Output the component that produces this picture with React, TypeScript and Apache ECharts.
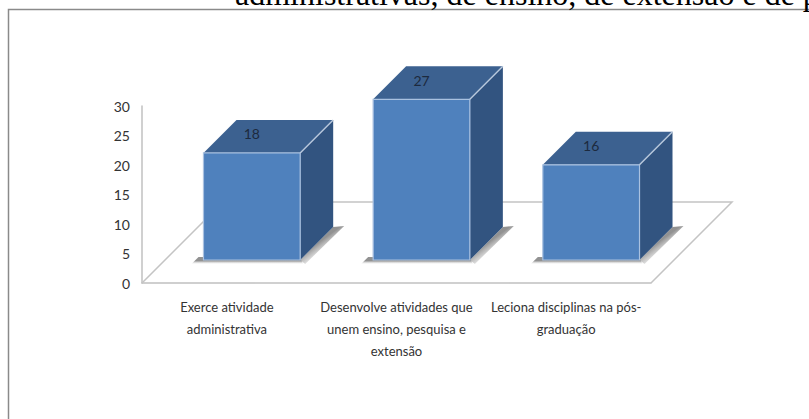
import React, { useEffect, useRef } from "react";
import * as echarts from "echarts";

const categories = [
  "Exerce atividade\nadministrativa",
  "Desenvolve atividades que\nunem ensino, pesquisa e\nextensão",
  "Leciona disciplinas na pós-\ngraduação",
];
const values = [18, 27, 16];
const headingText = "administrativas, de ensino, de extensão e de p";

const LABEL_FONT = 'Lato, "Liberation Sans", sans-serif';
const BAR_DEPTH = 33;
const FLOOR_DEPTH = 81;

const renderFloor = (params: any) => {
  const { x, y, width, height } = params.coordSys;
  const left = x;
  const right = x + width;
  const bottom = y + height;
  const back = bottom - FLOOR_DEPTH;
  return {
    type: "polyline",
    shape: {
      points: [
        [left, bottom],
        [left + FLOOR_DEPTH, back],
        [right + FLOOR_DEPTH, back],
        [right, bottom],
      ],
    },
    style: { fill: "none", stroke: "#c4c4c4", lineWidth: 1.5 },
  };
};

const shadowFade = (x: number, y: number, x2: number, y2: number) =>
  new echarts.graphic.LinearGradient(x, y, x2, y2, [
    { offset: 0, color: "rgba(140,140,140,0.95)" },
    { offset: 1, color: "rgba(215,215,215,0)" },
  ]);

const renderBar = (params: any, api: any) => {
  const index = api.value(0);
  const value = api.value(1);
  const [cx, base] = api.coord([index, 0]);
  const [, top] = api.coord([index, value]);
  const half = api.size([1, 0])[0] * 0.285;
  const l = cx - half;
  const r = cx + half;
  const d = BAR_DEPTH;
  return {
    type: "group",
    children: [
      // soft shadows cast on the floor, below the front and beside the side face
      {
        type: "polygon",
        shape: { points: [[l - 12, base + 4], [r + 3, base + 4], [r, base - 2], [l - 5, base - 3]] },
        style: { fill: shadowFade(0, 0.55, 0, 1) },
      },
      {
        type: "polygon",
        shape: { points: [[r, base], [r + d, base - d], [r + d + 11, base - d - 1], [r + 5, base + 4]] },
        style: { fill: shadowFade(0.4, 0.45, 0.68, 0.78) },
      },
      {
        type: "polygon",
        shape: { points: [[r, top], [r + d, top - d], [r + d, base - d], [r, base]] },
        style: { fill: "#325480" },
      },
      {
        type: "polygon",
        shape: { points: [[l, top], [l + d, top - d], [r + d, top - d], [r, top]] },
        style: { fill: "#3c6190" },
      },
      {
        type: "rect",
        shape: { x: l, y: top, width: r - l, height: base - top },
        style: { fill: "#4f81bd", stroke: "#a9c1e0", lineWidth: 1.2 },
      },
      {
        type: "line",
        shape: { x1: r, y1: top, x2: r + d, y2: top - d },
        style: { stroke: "#b9c9dd", lineWidth: 1.4 },
      },
      {
        type: "text",
        style: {
          text: String(value),
          x: cx,
          y: top - 19,
          align: "center",
          verticalAlign: "middle",
          fill: "#1c2a3e",
          font: `14px ${LABEL_FONT}`,
        },
      },
    ],
  };
};

export default function App() {
  const ref = useRef<HTMLDivElement>(null);

  useEffect(() => {
    const chart = echarts.init(ref.current!, undefined, { renderer: "svg" });
    chart.setOption({
      animation: false,
      backgroundColor: "#ffffff",
      grid: [
        { left: 142, top: 106, width: 509, height: 177 },
        { left: 167, top: 81.5, width: 509, height: 178.5 },
      ],
      xAxis: [
        {
          type: "category",
          gridIndex: 0,
          data: categories,
          axisLine: { lineStyle: { color: "#c0c0c0", width: 1.5 } },
          axisTick: { show: false },
          axisLabel: {
            interval: 0,
            margin: 13,
            color: "#333333",
            fontFamily: LABEL_FONT,
            fontSize: 13,
            lineHeight: 22,
            align: "center",
          },
        },
        { type: "category", gridIndex: 1, data: categories, show: false },
      ],
      yAxis: [
        {
          type: "value",
          gridIndex: 0,
          min: 0,
          max: 30,
          interval: 5,
          axisLine: { show: true, lineStyle: { color: "#c0c0c0", width: 1.5 } },
          axisTick: { show: false },
          splitLine: { show: false },
          axisLabel: { margin: 12, color: "#333333", fontFamily: LABEL_FONT, fontSize: 14 },
        },
        { type: "value", gridIndex: 1, min: 0, max: 30, interval: 5, show: false },
      ],
      series: [
        {
          type: "custom",
          xAxisIndex: 0,
          yAxisIndex: 0,
          clip: false,
          silent: true,
          z: 1,
          data: [[0, 0]],
          renderItem: renderFloor,
        },
        {
          type: "custom",
          xAxisIndex: 1,
          yAxisIndex: 1,
          clip: false,
          silent: true,
          z: 3,
          data: values.map((v, i) => [i, v]),
          renderItem: renderBar,
        },
      ],
      graphic: [
        {
          type: "text",
          x: 235,
          y: 10,
          z: 10,
          style: {
            text: headingText,
            fill: "#000000",
            font: '32px "Liberation Serif", serif',
            verticalAlign: "bottom",
          },
        },
        {
          type: "polyline",
          z: 9,
          shape: { points: [[8.5, 419], [8.5, 9.5], [809, 9.5]] },
          style: { fill: "none", stroke: "#8a8a8a", lineWidth: 1.5 },
        },
      ],
    });
    return () => chart.dispose();
  }, []);

  return (
    <div
      ref={ref}
      style={{ position: "absolute", left: 0, top: 0, width: 809, height: 419 }}
    />
  );
}
